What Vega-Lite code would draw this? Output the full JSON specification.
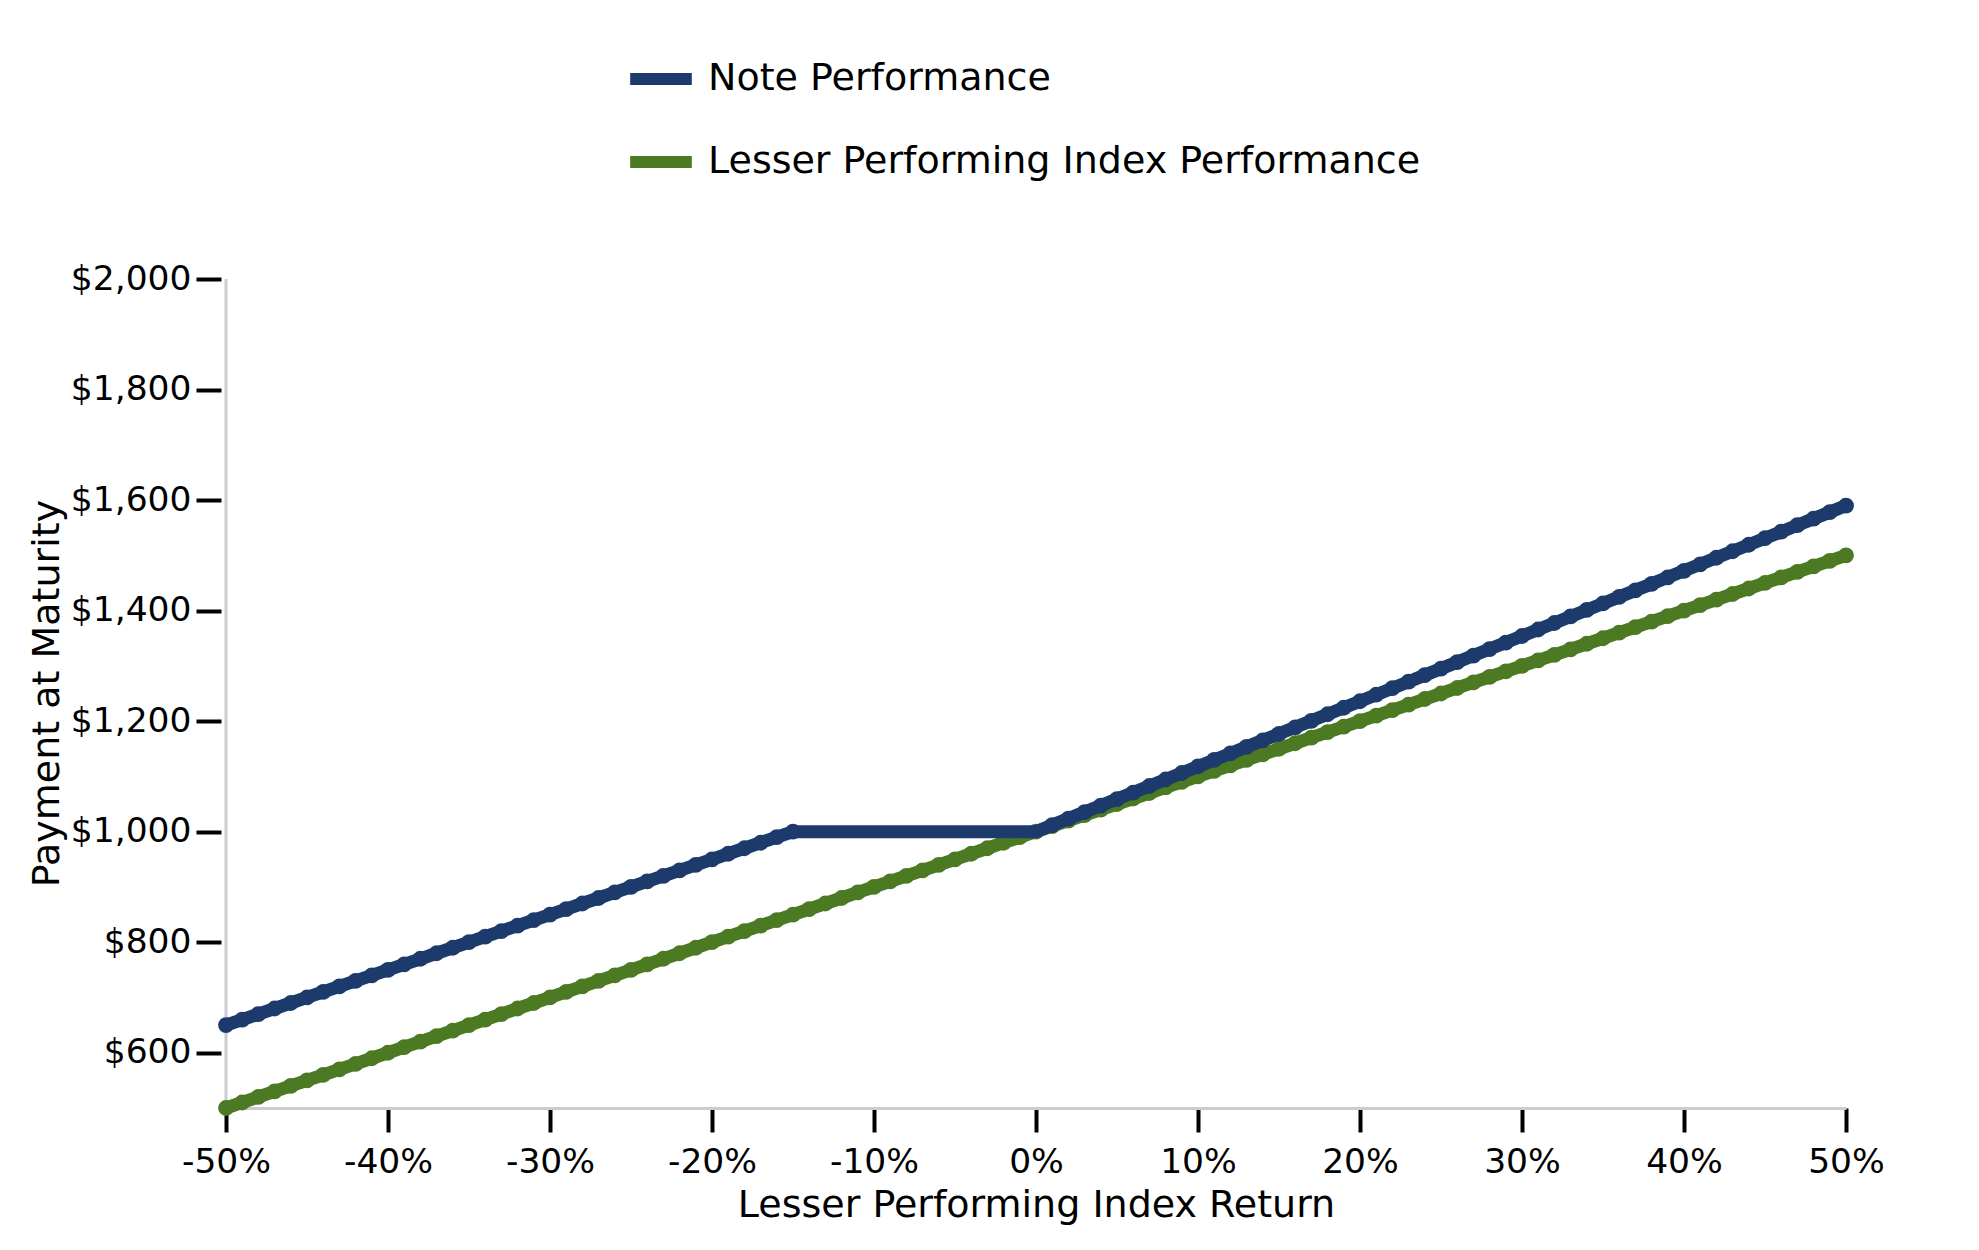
{
  "$schema": "https://vega.github.io/schema/vega-lite/v6.json",
  "width": 1620,
  "height": 829,
  "autosize": {"type": "none"},
  "padding": {"left": 226, "top": 279, "right": 133, "bottom": 142},
  "background": "white",
  "config": {"view": {"stroke": null}, "font": "DejaVu Sans"},
  "datasets": {
    "note": [
      {"x": -50, "y": 650}, {"x": -49, "y": 660}, {"x": -48, "y": 670}, {"x": -47, "y": 680}, {"x": -46, "y": 690},
      {"x": -45, "y": 700}, {"x": -44, "y": 710}, {"x": -43, "y": 720}, {"x": -42, "y": 730}, {"x": -41, "y": 740},
      {"x": -40, "y": 750}, {"x": -39, "y": 760}, {"x": -38, "y": 770}, {"x": -37, "y": 780}, {"x": -36, "y": 790},
      {"x": -35, "y": 800}, {"x": -34, "y": 810}, {"x": -33, "y": 820}, {"x": -32, "y": 830}, {"x": -31, "y": 840},
      {"x": -30, "y": 850}, {"x": -29, "y": 860}, {"x": -28, "y": 870}, {"x": -27, "y": 880}, {"x": -26, "y": 890},
      {"x": -25, "y": 900}, {"x": -24, "y": 910}, {"x": -23, "y": 920}, {"x": -22, "y": 930}, {"x": -21, "y": 940},
      {"x": -20, "y": 950}, {"x": -19, "y": 960}, {"x": -18, "y": 970}, {"x": -17, "y": 980}, {"x": -16, "y": 990},
      {"x": -15, "y": 1000}, {"x": -14, "y": 1000}, {"x": -13, "y": 1000}, {"x": -12, "y": 1000}, {"x": -11, "y": 1000},
      {"x": -10, "y": 1000}, {"x": -9, "y": 1000}, {"x": -8, "y": 1000}, {"x": -7, "y": 1000}, {"x": -6, "y": 1000},
      {"x": -5, "y": 1000}, {"x": -4, "y": 1000}, {"x": -3, "y": 1000}, {"x": -2, "y": 1000}, {"x": -1, "y": 1000},
      {"x": 0, "y": 1000}, {"x": 1, "y": 1011.8}, {"x": 2, "y": 1023.6}, {"x": 3, "y": 1035.4}, {"x": 4, "y": 1047.2},
      {"x": 5, "y": 1059}, {"x": 6, "y": 1070.8}, {"x": 7, "y": 1082.6}, {"x": 8, "y": 1094.4}, {"x": 9, "y": 1106.2},
      {"x": 10, "y": 1118}, {"x": 11, "y": 1129.8}, {"x": 12, "y": 1141.6}, {"x": 13, "y": 1153.4}, {"x": 14, "y": 1165.2},
      {"x": 15, "y": 1177}, {"x": 16, "y": 1188.8}, {"x": 17, "y": 1200.6}, {"x": 18, "y": 1212.4}, {"x": 19, "y": 1224.2},
      {"x": 20, "y": 1236}, {"x": 21, "y": 1247.8}, {"x": 22, "y": 1259.6}, {"x": 23, "y": 1271.4}, {"x": 24, "y": 1283.2},
      {"x": 25, "y": 1295}, {"x": 26, "y": 1306.8}, {"x": 27, "y": 1318.6}, {"x": 28, "y": 1330.4}, {"x": 29, "y": 1342.2},
      {"x": 30, "y": 1354}, {"x": 31, "y": 1365.8}, {"x": 32, "y": 1377.6}, {"x": 33, "y": 1389.4}, {"x": 34, "y": 1401.2},
      {"x": 35, "y": 1413}, {"x": 36, "y": 1424.8}, {"x": 37, "y": 1436.6}, {"x": 38, "y": 1448.4}, {"x": 39, "y": 1460.2},
      {"x": 40, "y": 1472}, {"x": 41, "y": 1483.8}, {"x": 42, "y": 1495.6}, {"x": 43, "y": 1507.4}, {"x": 44, "y": 1519.2},
      {"x": 45, "y": 1531}, {"x": 46, "y": 1542.8}, {"x": 47, "y": 1554.6}, {"x": 48, "y": 1566.4}, {"x": 49, "y": 1578.2},
      {"x": 50, "y": 1590}
    ],
    "index": [
      {"x": -50, "y": 500}, {"x": -49, "y": 510}, {"x": -48, "y": 520}, {"x": -47, "y": 530}, {"x": -46, "y": 540},
      {"x": -45, "y": 550}, {"x": -44, "y": 560}, {"x": -43, "y": 570}, {"x": -42, "y": 580}, {"x": -41, "y": 590},
      {"x": -40, "y": 600}, {"x": -39, "y": 610}, {"x": -38, "y": 620}, {"x": -37, "y": 630}, {"x": -36, "y": 640},
      {"x": -35, "y": 650}, {"x": -34, "y": 660}, {"x": -33, "y": 670}, {"x": -32, "y": 680}, {"x": -31, "y": 690},
      {"x": -30, "y": 700}, {"x": -29, "y": 710}, {"x": -28, "y": 720}, {"x": -27, "y": 730}, {"x": -26, "y": 740},
      {"x": -25, "y": 750}, {"x": -24, "y": 760}, {"x": -23, "y": 770}, {"x": -22, "y": 780}, {"x": -21, "y": 790},
      {"x": -20, "y": 800}, {"x": -19, "y": 810}, {"x": -18, "y": 820}, {"x": -17, "y": 830}, {"x": -16, "y": 840},
      {"x": -15, "y": 850}, {"x": -14, "y": 860}, {"x": -13, "y": 870}, {"x": -12, "y": 880}, {"x": -11, "y": 890},
      {"x": -10, "y": 900}, {"x": -9, "y": 910}, {"x": -8, "y": 920}, {"x": -7, "y": 930}, {"x": -6, "y": 940},
      {"x": -5, "y": 950}, {"x": -4, "y": 960}, {"x": -3, "y": 970}, {"x": -2, "y": 980}, {"x": -1, "y": 990},
      {"x": 0, "y": 1000}, {"x": 1, "y": 1010}, {"x": 2, "y": 1020}, {"x": 3, "y": 1030}, {"x": 4, "y": 1040},
      {"x": 5, "y": 1050}, {"x": 6, "y": 1060}, {"x": 7, "y": 1070}, {"x": 8, "y": 1080}, {"x": 9, "y": 1090},
      {"x": 10, "y": 1100}, {"x": 11, "y": 1110}, {"x": 12, "y": 1120}, {"x": 13, "y": 1130}, {"x": 14, "y": 1140},
      {"x": 15, "y": 1150}, {"x": 16, "y": 1160}, {"x": 17, "y": 1170}, {"x": 18, "y": 1180}, {"x": 19, "y": 1190},
      {"x": 20, "y": 1200}, {"x": 21, "y": 1210}, {"x": 22, "y": 1220}, {"x": 23, "y": 1230}, {"x": 24, "y": 1240},
      {"x": 25, "y": 1250}, {"x": 26, "y": 1260}, {"x": 27, "y": 1270}, {"x": 28, "y": 1280}, {"x": 29, "y": 1290},
      {"x": 30, "y": 1300}, {"x": 31, "y": 1310}, {"x": 32, "y": 1320}, {"x": 33, "y": 1330}, {"x": 34, "y": 1340},
      {"x": 35, "y": 1350}, {"x": 36, "y": 1360}, {"x": 37, "y": 1370}, {"x": 38, "y": 1380}, {"x": 39, "y": 1390},
      {"x": 40, "y": 1400}, {"x": 41, "y": 1410}, {"x": 42, "y": 1420}, {"x": 43, "y": 1430}, {"x": 44, "y": 1440},
      {"x": 45, "y": 1450}, {"x": 46, "y": 1460}, {"x": 47, "y": 1470}, {"x": 48, "y": 1480}, {"x": 49, "y": 1490},
      {"x": 50, "y": 1500}
    ]
  },
  "layer": [
    {
      "data": {"values": [{}]},
      "mark": {"type": "rule", "color": "#c8cdd3", "strokeWidth": 3},
      "encoding": {"x": {"datum": -50, "type": "quantitative"}}
    },
    {
      "data": {"name": "index"},
      "mark": {"type": "line", "strokeWidth": 13},
      "encoding": {
        "x": {
          "field": "x", "type": "quantitative",
          "scale": {"domain": [-50, 50], "nice": false, "zero": false},
          "axis": {
            "title": "Lesser Performing Index Return",
            "values": [-50, -40, -30, -20, -10, 0, 10, 20, 30, 40, 50],
            "labelExpr": "datum.value + '%'",
            "labelFlush": false,
            "grid": false,
            "domainColor": "#c8cdd3", "domainWidth": 3,
            "tickColor": "black", "tickWidth": 4, "tickSize": 24,
            "labelFont": "DejaVu Sans", "labelFontSize": 34.5, "labelColor": "black", "labelPadding": 13,
            "titleFont": "DejaVu Sans", "titleFontSize": 38, "titleFontWeight": "normal", "titleColor": "black",
            "titleBaseline": "alphabetic", "titleY": 108
          }
        },
        "y": {
          "field": "y", "type": "quantitative",
          "scale": {"domain": [500, 2000], "nice": false, "zero": false},
          "axis": {
            "title": "Payment at Maturity",
            "values": [600, 800, 1000, 1200, 1400, 1600, 1800, 2000],
            "format": "$,.0f",
            "grid": false, "domain": false, "offset": 5,
            "tickColor": "black", "tickWidth": 4, "tickSize": 25,
            "labelFont": "DejaVu Sans", "labelFontSize": 34.5, "labelColor": "black", "labelPadding": 5,
            "titleFont": "DejaVu Sans", "titleFontSize": 38, "titleFontWeight": "normal", "titleColor": "black",
            "titleAngle": -90, "titleBaseline": "alphabetic", "titleAlign": "center", "titleX": -163, "titleY": 414
          }
        },
        "color": {
          "datum": "Lesser Performing Index Performance", "type": "nominal",
          "scale": {"domain": ["Note Performance", "Lesser Performing Index Performance"], "range": ["#1c3b6c", "#4b7a23"]},
          "legend": {
            "title": null, "orient": "none", "legendX": 398, "legendY": -237,
            "direction": "vertical",
            "symbolType": "stroke", "symbolSize": 3800, "symbolStrokeWidth": 12,
            "labelFont": "DejaVu Sans", "labelFontSize": 38, "labelColor": "black",
            "labelOffset": 10, "rowPadding": 22, "padding": 0, "labelLimit": 0
          }
        }
      }
    },
    {
      "data": {"name": "index"},
      "mark": {"type": "circle", "size": 250, "opacity": 1},
      "encoding": {
        "x": {"field": "x", "type": "quantitative"},
        "y": {"field": "y", "type": "quantitative"},
        "color": {"datum": "Lesser Performing Index Performance", "type": "nominal"}
      }
    },
    {
      "data": {"name": "note"},
      "mark": {"type": "line", "strokeWidth": 13},
      "encoding": {
        "x": {"field": "x", "type": "quantitative"},
        "y": {"field": "y", "type": "quantitative"},
        "color": {"datum": "Note Performance", "type": "nominal"}
      }
    },
    {
      "data": {"name": "note"},
      "transform": [{"filter": "datum.x <= -15 || datum.x >= 1"}],
      "mark": {"type": "circle", "size": 250, "opacity": 1},
      "encoding": {
        "x": {"field": "x", "type": "quantitative"},
        "y": {"field": "y", "type": "quantitative"},
        "color": {"datum": "Note Performance", "type": "nominal"}
      }
    }
  ]
}
